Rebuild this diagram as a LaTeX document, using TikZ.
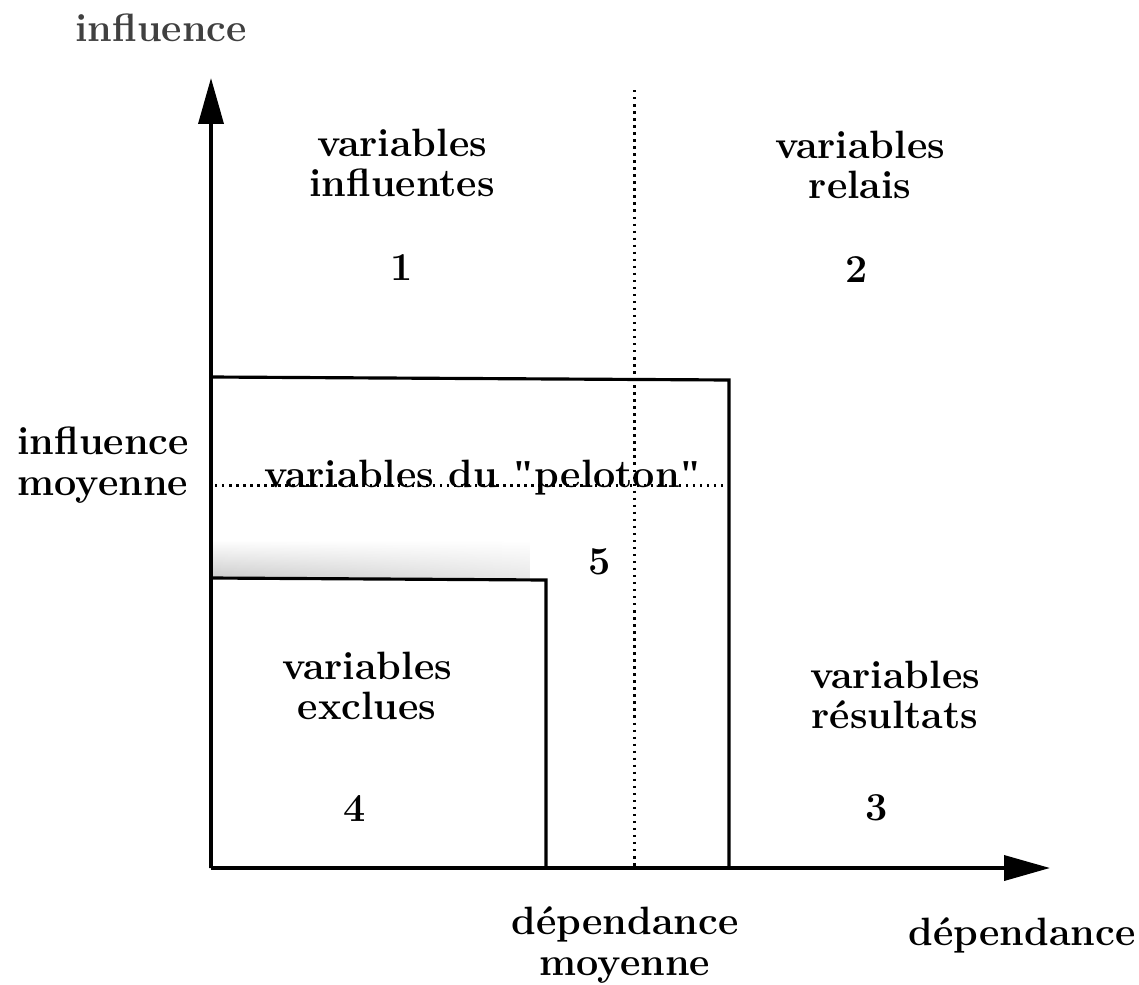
\documentclass[tikz,border=0pt]{standalone}
\usepackage{xcolor}
\usepackage{fontspec}
\usepackage{tikz}
\usetikzlibrary{arrows.meta,fadings}

\newfontfamily\quotefont{Liberation Serif}
\tikzfading[name=fadeeast, left color=transparent!0, right color=transparent!55]

\begin{document}
\begin{tikzpicture}[x=0.02cm, y=-0.02cm,
    lbl/.style={font=\fontsize{22.5}{23}\selectfont\bfseries, align=center, inner sep=0pt},
    axe/.style={line width=2.1pt, -{Triangle[length=0.92cm, width=0.5cm]}},
    boite/.style={line width=1.8pt},
    pointille/.style={line width=1.7pt, dash pattern=on 1.4pt off 2.6pt}]
    \useasboundingbox (0,0) rectangle (1139,984);

    % repere
    \coordinate (O) at (211,868);
    \coordinate (ytip) at (211,78);
    \coordinate (xtip) at (1050,868);

    % ombre sous le peloton
    \shade[top color=white, bottom color=gray!40, path fading=fadeeast] (213,540) rectangle (530,578);

    % zones
    \draw[boite] (O) -- (211,377) -- (729,380) -- (729,868);
    \draw[boite] (211,578) -- (546,580) -- (546,868);

    % moyennes
    \coordinate (dm) at (634,90);
    \coordinate (dmb) at (634,868);
    \coordinate (im) at (215,485);
    \coordinate (imd) at (735,485);
    \draw[pointille] (dm) -- (dmb);
    \draw[pointille] (im) -- (imd);

    \draw[axe] (O) -- (ytip);
    \draw[axe] (O) -- (xtip);

    % textes
    \node[lbl, text=black!75] (infl) at (161,28) {influence};
    \node[lbl] (influentes) at (402,163) {variables\\influentes};
    \node[lbl] (n1) at (402,268) {1};
    \node[lbl] (relais) at (860,165) {variables\\relais};
    \node[lbl] (n2) at (857,270) {2};
    \node[lbl] (inflmoy) at (103,465) {influence\\moyenne};
    \node[lbl] (peloton) at (483,478) {variables du {\quotefont"}peloton{\quotefont"}};
    \node[lbl] (n5) at (600,562) {5};
    \node[lbl] (exclues) at (367,686) {variables\\exclues};
    \node[lbl] (n4) at (355,808) {4};
    \node[lbl] (resultats) at (895,695) {variables\\résultats};
    \node[lbl] (n3) at (877,808) {3};
    \node[lbl] (depmoy) at (625,945) {dépendance\\moyenne};
    \node[lbl] (dep) at (1022,935) {dépendance};
\end{tikzpicture}
\end{document}
